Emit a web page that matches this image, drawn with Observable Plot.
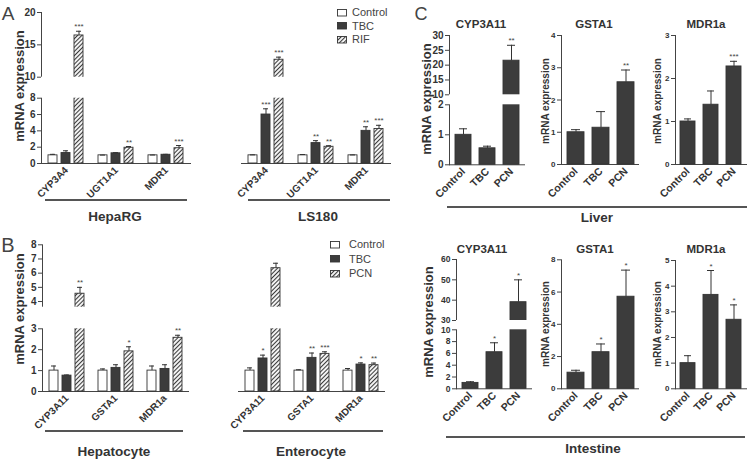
<!DOCTYPE html>
<html><head><meta charset="utf-8">
<script src="https://cdn.jsdelivr.net/npm/d3@7"></script>
<script src="https://cdn.jsdelivr.net/npm/@observablehq/plot@0.6"></script>
<style>
body{margin:0;background:#fff;font-family:"Liberation Sans",Arial,sans-serif;color:#333;}
#root{position:relative;width:752px;height:462px;overflow:hidden;background:#fff;}
.abs{position:absolute;}
.lbl{position:absolute;white-space:nowrap;transform:translate(-50%,-50%);line-height:1;}
.vlbl{position:absolute;white-space:nowrap;transform:translate(-50%,-50%) rotate(-90deg);line-height:1;font-weight:bold;color:#333;}
.line{position:absolute;height:2px;background:#555;}
</style>
</head><body>
<svg width="0" height="0" style="position:absolute">
  <defs>
    <pattern id="hatch" patternUnits="userSpaceOnUse" width="3" height="3" patternTransform="rotate(45)">
      <rect width="3" height="3" fill="#f2f2f2"></rect>
      <line x1="0.5" y1="0" x2="0.5" y2="3" stroke="#3a3a3a" stroke-width="1"></line>
    </pattern>
  </defs>
</svg>
<div id="root"></div>
<script>
// ---------- DATA ----------
const treatAB_A = ["Control", "TBC", "RIF"];
const treatAB_B = ["Control", "TBC", "PCN"];
const treatC = ["Control", "TBC", "PCN"];

const genesA = ["CYP3A4", "UGT1A1", "MDR1"];
const cellsA = ["HepaRG", "LS180"];
const hepaRGMean = [1.00, 1.28, 16.45, 1.00, 1.25, 1.93, 1.00, 1.07, 1.87];
const hepaRGErr  = [0.12, 0.28, 0.65, 0.03, 0.08, 0.15, 0.04, 0.05, 0.33];
const hepaRGStar = ["", "", "***", "", "", "**", "", "", "***"];
const ls180Mean = [1.00, 6.00, 12.7, 1.00, 2.50, 2.05, 1.00, 4.00, 4.23];
const ls180Err  = [0.06, 0.70, 0.40, 0.10, 0.30, 0.13, 0.05, 0.50, 0.45];
const ls180Star = ["", "***", "***", "", "**", "**", "", "**", "***"];
const ticksA = [0, 2, 4, 6, 8, 10, 15, 20];

const genesB = ["CYP3A11", "GSTA1", "MDR1a"];
const cellsB = ["Hepatocyte", "Enterocyte"];
const hepatoMean = [1.00, 0.76, 4.55, 1.00, 1.13, 1.92, 1.00, 1.08, 2.57];
const hepatoErr  = [0.22, 0.03, 0.45, 0.08, 0.15, 0.22, 0.22, 0.20, 0.12];
const hepatoStar = ["", "", "**", "", "", "*", "", "", "**"];
const enteroMean = [1.00, 1.58, 6.35, 1.00, 1.61, 1.80, 1.00, 1.29, 1.26];
const enteroErr  = [0.13, 0.16, 0.35, 0.04, 0.23, 0.10, 0.10, 0.08, 0.10];
const enteroStar = ["", "*", "", "", "**", "***", "", "*", "**"];
const ticksB = [0, 1, 2, 3, 4, 5, 6, 7, 8];

const liverCYPMean = [1.00, 0.55, 21.5], liverCYPErr = [0.20, 0.07, 5.2], liverCYPStar = ["", "", "**"];
const liverGSTMean = [1.00, 1.14, 2.55], liverGSTErr = [0.08, 0.50, 0.38], liverGSTStar = ["", "", "**"];
const liverMDRMean = [1.00, 1.39, 2.28], liverMDRErr = [0.06, 0.32, 0.12], liverMDRStar = ["", "", "***"];
const intCYPMean = [1.00, 6.2, 39.0], intCYPErr = [0.20, 1.6, 11.0], intCYPStar = ["", "*", "*"];
const intGSTMean = [1.00, 2.27, 5.71], intGSTErr = [0.15, 0.51, 1.65], intGSTStar = ["", "*", "*"];
const intMDRMean = [1.00, 3.66, 2.69], intMDRErr = [0.29, 0.95, 0.58], intMDRStar = ["", "*", "*"];

// ---------- HELPERS ----------
const root = document.getElementById("root");
const AX = "#444";
const DARK = "#3c3c3c";
const STYLE = "font-family:'Liberation Sans',Arial,sans-serif;overflow:visible;background:transparent;color:#333;";
const fmt = d => String(d);

function rowsFor(cell, genes, treatments, means, errs, stars) {
  const out = [];
  genes.forEach((g, gi) => treatments.forEach((t, ti) => {
    const i = gi * treatments.length + ti;
    out.push({slot: cell + "|" + g, gene: g, treatment: t, mean: means[i], err: errs[i], stars: stars[i]});
  }));
  return out;
}
function rowsC(treatments, means, errs, stars) {
  return treatments.map((t, i) => ({treatment: t, mean: means[i], err: errs[i], stars: stars[i]}));
}
function place(node, left, top, w, h) {
  const d = document.createElement("div");
  d.className = "abs";
  d.style.left = left + "px"; d.style.top = top + "px";
  d.style.width = w + "px"; d.style.height = h + "px";
  d.appendChild(node);
  root.appendChild(d);
}
function text(t, x, y, size, weight, color) {
  const d = document.createElement("div");
  d.className = "lbl";
  d.textContent = t;
  d.style.left = x + "px"; d.style.top = y + "px";
  d.style.fontSize = size + "px"; d.style.fontWeight = weight || "normal";
  d.style.color = color || "#333";
  root.appendChild(d);
}
function vtext(t, x, y, size) {
  const d = document.createElement("div");
  d.className = "vlbl";
  d.textContent = t;
  d.style.left = x + "px"; d.style.top = y + "px"; d.style.fontSize = size + "px";
  root.appendChild(d);
}
function hline(x1, x2, y) {
  const d = document.createElement("div");
  d.className = "line";
  d.style.left = x1 + "px"; d.style.top = (y - 1) + "px"; d.style.width = (x2 - x1) + "px";
  root.appendChild(d);
}

function groupedPanel(o) {
  const rows = o.rows;
  return Plot.plot({
    width: o.width, height: o.height,
    marginLeft: o.ml, marginRight: o.mr, marginTop: o.mt, marginBottom: o.mb,
    style: STYLE,
    fx: {domain: o.slots, padding: 0},
    x: {domain: o.treatments, paddingInner: 0.27, paddingOuter: 0.48, axis: null},
    y: {type: "linear", domain: o.yDomain, range: o.yRange},
    color: {domain: o.treatments, range: ["white", DARK, "url(#hatch)"]},
    facet: {data: rows, x: "slot"},
    marks: [
      Plot.frame({anchor: "left", facetAnchor: "left", stroke: AX}),
      Plot.ruleY([0], {stroke: AX}),
      Plot.barY(rows, {x: "treatment", y: "mean", fill: "treatment", stroke: "#333", strokeWidth: 0.9}),
      Plot.rect([o.gap], {y1: d => d[0], y2: d => d[1], fill: "white", insetLeft: -4}),
      Plot.ruleX(rows, {filter: d => d.err > 0, x: "treatment", y1: "mean", y2: d => d.mean + d.err, stroke: "#333"}),
      Plot.tickY(rows, {filter: d => d.err > 0, x: "treatment", y: d => d.mean + d.err, inset: 2, stroke: "#333"}),
      Plot.text(rows, {filter: d => d.stars, x: "treatment", y: d => d.mean + d.err, text: "stars", dy: -2, lineAnchor: "bottom", fontSize: 8, fill: "#444"}),
      Plot.axisY({facetAnchor: "left", ticks: o.yTicks, tickFormat: fmt, tickSize: 4, tickPadding: 2, fontSize: 10, fontWeight: "bold", stroke: AX, label: null}),
      Plot.axisFx({anchor: "bottom", tickSize: 0, tickPadding: 5, tickRotate: -45, textAnchor: "end", fontSize: 10, fontWeight: "bold", label: null,
        tickFormat: k => k === "gap" ? "" : k.split("|")[1]})
    ]
  });
}

function simplePanel(o) {
  const rows = o.rows;
  const marks = [
    Plot.frame({anchor: "left", stroke: AX}),
    Plot.ruleY([0], {stroke: AX}),
    Plot.barY(rows, {x: "treatment", y: "mean", fill: DARK, stroke: "#333", strokeWidth: 0.9})
  ];
  if (o.gap) marks.push(Plot.rect([o.gap], {y1: d => d[0], y2: d => d[1], fill: "white", insetLeft: -4}));
  marks.push(
    Plot.ruleX(rows, {x: "treatment", y1: "mean", y2: d => d.mean + d.err, stroke: "#333"}),
    Plot.tickY(rows, {x: "treatment", y: d => d.mean + d.err, inset: 4, stroke: "#333"}),
    Plot.text(rows, {filter: d => d.stars, x: "treatment", y: d => d.mean + d.err, text: "stars", dy: -2, lineAnchor: "bottom", fontSize: 8, fill: "#444"}),
    Plot.axisY({ticks: o.yTicks, tickFormat: fmt, tickSize: 4, tickPadding: 2, fontSize: o.tickFont, fontWeight: "bold", stroke: AX, label: null}),
    Plot.axisX({tickSize: 0, tickPadding: 5, tickRotate: -45, textAnchor: "end", fontSize: 10.5, fontWeight: "bold", label: null})
  );
  return Plot.plot({
    width: o.width, height: o.height,
    marginLeft: o.ml, marginRight: o.mr, marginTop: o.mt, marginBottom: o.mb,
    style: STYLE,
    x: {domain: treatC, paddingInner: 0.33, paddingOuter: 0.2},
    y: {type: "linear", domain: o.yDomain, range: o.yRange},
    marks
  });
}

// ---------- PANEL A ----------
const slotsA = [...genesA.map(g => cellsA[0] + "|" + g), "gap", ...genesA.map(g => cellsA[1] + "|" + g)];
const rowsA = [
  ...rowsFor(cellsA[0], genesA, treatAB_A, hepaRGMean, hepaRGErr, hepaRGStar),
  ...rowsFor(cellsA[1], genesA, treatAB_A, ls180Mean, ls180Err, ls180Star)
];
place(groupedPanel({rows: rowsA, slots: slotsA, treatments: treatAB_A,
  width: 400, height: 230, ml: 39, mr: 7, mt: 12, mb: 67,
  yDomain: [0, 8, 10, 20], yRange: [163, 97.7, 76.7, 12], yTicks: ticksA, gap: [8, 10]}), 0, 0, 400, 230);

// ---------- PANEL B ----------
const slotsB = [...genesB.map(g => cellsB[0] + "|" + g), "gap", ...genesB.map(g => cellsB[1] + "|" + g)];
const rowsB = [
  ...rowsFor(cellsB[0], genesB, treatAB_B, hepatoMean, hepatoErr, hepatoStar),
  ...rowsFor(cellsB[1], genesB, treatAB_B, enteroMean, enteroErr, enteroStar)
];
place(groupedPanel({rows: rowsB, slots: slotsB, treatments: treatAB_B,
  width: 400, height: 237, ml: 41, mr: 14, mt: 19.3, mb: 71,
  yDomain: [0, 3, 3.6, 8], yRange: [166, 103.3, 81.7, 19.3], yTicks: ticksB, gap: [3, 3.6]}), 0, 225, 400, 237);

// ---------- PANEL C ----------
place(simplePanel({rows: rowsC(treatC, liverCYPMean, liverCYPErr, liverCYPStar), width: 125, height: 230, ml: 40, mr: 9, mt: 35, mb: 65.7,
  yDomain: [0, 2, 10, 30], yRange: [164.3, 104.3, 94.3, 35], yTicks: [0, 1, 2, 10, 15, 20, 25, 30], gap: [2, 10], tickFont: 10}), 409, 0, 125, 230);
place(simplePanel({rows: rowsC(treatC, liverGSTMean, liverGSTErr, liverGSTStar), width: 113, height: 230, ml: 30, mr: 5, mt: 35, mb: 66,
  yDomain: [0, 4], yRange: [164, 35], yTicks: [0, 1, 2, 3, 4], tickFont: 8}), 531, 0, 113, 230);
place(simplePanel({rows: rowsC(treatC, liverMDRMean, liverMDRErr, liverMDRStar), width: 107, height: 230, ml: 30, mr: 5, mt: 35, mb: 66,
  yDomain: [0, 3], yRange: [164, 35], yTicks: [0, 1, 2, 3], tickFont: 8}), 645, 0, 107, 230);

place(simplePanel({rows: rowsC(treatC, intCYPMean, intCYPErr, intCYPStar), width: 120, height: 237, ml: 40, mr: 4, mt: 34, mb: 73.7,
  yDomain: [0, 10, 30, 60], yRange: [163.3, 104.3, 95, 34], yTicks: [0, 2, 4, 6, 8, 10, 30, 40, 50, 60], gap: [10, 30], tickFont: 8.5}), 416, 225, 120, 237);
place(simplePanel({rows: rowsC(treatC, intGSTMean, intGSTErr, intGSTStar), width: 113, height: 237, ml: 30, mr: 5, mt: 34.3, mb: 73.7,
  yDomain: [0, 8], yRange: [163.3, 34.3], yTicks: [0, 2, 4, 6, 8], tickFont: 8}), 531, 225, 113, 237);
place(simplePanel({rows: rowsC(treatC, intMDRMean, intMDRErr, intMDRStar), width: 107, height: 237, ml: 30, mr: 5, mt: 35, mb: 73.7,
  yDomain: [0, 5], yRange: [163.3, 35], yTicks: [0, 1, 2, 3, 4, 5], tickFont: 8}), 645, 225, 107, 237);

// ---------- TEXT / ANNOTATIONS ----------
text("A", 8, 13, 19, "normal", "#444");
text("B", 8, 245, 20, "normal", "#444");
text("C", 421, 14, 18, "normal", "#444");

vtext("mRNA expression", 19, 86, 13);
vtext("mRNA expression", 19, 309, 13);
vtext("mRNA expression", 426, 99, 13);
vtext("mRNA expression", 546, 101, 10);
vtext("mRNA expression", 658, 101, 10);
vtext("mRNA expression", 428, 322, 13);
vtext("mRNA expression", 546, 324, 10);
vtext("mRNA expression", 658, 324, 10);

text("CYP3A11", 481, 25, 11.5, "bold");
text("GSTA1", 594, 25, 11.5, "bold");
text("MDR1a", 706, 25, 11.5, "bold");
text("CYP3A11", 482, 250, 11.5, "bold");
text("GSTA1", 595, 250, 11.5, "bold");
text("MDR1a", 706, 250, 11.5, "bold");

hline(45, 187, 200); text(cellsA[0], 115, 217, 13.5, "bold");
hline(248, 390, 200); text(cellsA[1], 318, 217, 13.5, "bold");
hline(45, 183, 431); text(cellsB[0], 114, 452, 13.5, "bold");
hline(243, 383, 431); text(cellsB[1], 311, 452, 13.5, "bold");
hline(447, 747, 207); text("Liver", 597, 218, 13.5, "bold");
hline(446, 745, 437); text("Intestine", 593, 449, 13.5, "bold");

// legends
function legend(items, x, y0, step, textX) {
  const fills = ["white", DARK, "url(#hatch)"];
  items.forEach((name, i) => {
    const cy = y0 + i * step;
    const s = document.createElementNS("http://www.w3.org/2000/svg", "svg");
    s.setAttribute("width", 11); s.setAttribute("height", 8);
    s.style.position = "absolute"; s.style.left = x + "px"; s.style.top = (cy - 4) + "px";
    const r = document.createElementNS("http://www.w3.org/2000/svg", "rect");
    r.setAttribute("x", 0.5); r.setAttribute("y", 0.5); r.setAttribute("width", 9); r.setAttribute("height", 6.5);
    r.setAttribute("fill", fills[i]); r.setAttribute("stroke", "#333"); r.setAttribute("stroke-width", 0.9);
    s.appendChild(r); root.appendChild(s);
    const d = document.createElement("div");
    d.className = "abs";
    d.textContent = name;
    d.style.left = textX + "px"; d.style.top = (cy - 6.5) + "px";
    d.style.fontSize = "11px"; d.style.lineHeight = "13px"; d.style.color = "#444";
    root.appendChild(d);
  });
}
legend(treatAB_A, 337, 12.5, 13.7, 352);
legend(treatAB_B, 330, 244.5, 14.5, 349);
</script>
</body></html>
